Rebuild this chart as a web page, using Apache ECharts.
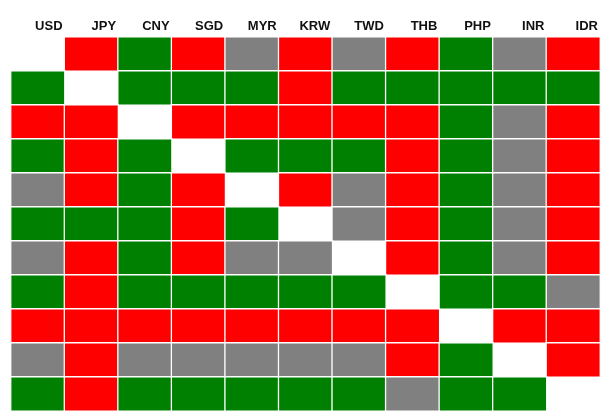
<!DOCTYPE html>
<html>
<head>
<meta charset="utf-8">
<script src="https://cdn.jsdelivr.net/npm/echarts@6/dist/echarts.min.js"></script>
<style>
  html, body { margin: 0; padding: 0; background: #fff; }
  #chart { width: 601px; height: 411px; }
</style>
</head>
<body>
<div id="chart"></div>
<script>
// currencies, same order on both axes
const currencies = ['USD', 'JPY', 'CNY', 'SGD', 'MYR', 'KRW', 'TWD', 'THB', 'PHP', 'INR', 'IDR'];

// 1 = green, -1 = red, 0 = grey, null = diagonal (blank)
const rowUSD = [null, -1, 1, -1, 0, -1, 0, -1, 1, 0, -1];
const rowJPY = [1, null, 1, 1, 1, -1, 1, 1, 1, 1, 1];
const rowCNY = [-1, -1, null, -1, -1, -1, -1, -1, 1, 0, -1];
const rowSGD = [1, -1, 1, null, 1, 1, 1, -1, 1, 0, -1];
const rowMYR = [0, -1, 1, -1, null, -1, 0, -1, 1, 0, -1];
const rowKRW = [1, 1, 1, -1, 1, null, 0, -1, 1, 0, -1];
const rowTWD = [0, -1, 1, -1, 0, 0, null, -1, 1, 0, -1];
const rowTHB = [1, -1, 1, 1, 1, 1, 1, null, 1, 1, 0];
const rowPHP = [-1, -1, -1, -1, -1, -1, -1, -1, null, -1, -1];
const rowINR = [0, -1, 0, 0, 0, 0, 0, -1, 1, null, -1];
const rowIDR = [1, -1, 1, 1, 1, 1, 1, 0, 1, 1, null];

const rows = [rowUSD, rowJPY, rowCNY, rowSGD, rowMYR, rowKRW, rowTWD, rowTHB, rowPHP, rowINR, rowIDR];

const cells = [];
rows.forEach(function (row, r) {
  row.forEach(function (v, c) {
    if (v !== null) cells.push([c, r, v]);
  });
});

const chart = echarts.init(document.getElementById('chart'));
chart.setOption({
  animation: false,
  backgroundColor: '#fff',
  grid: { left: 11, top: 37, width: 589, height: 375 },
  xAxis: [{
    type: 'category',
    data: currencies,
    show: false
  }, {
    // label-only axis so names sit at the right edge of each column
    type: 'value',
    position: 'top',
    min: 0,
    max: 11,
    interval: 1,
    axisLine: { show: false },
    axisTick: { show: false },
    splitLine: { show: false },
    axisLabel: {
      show: true,
      align: 'right',
      margin: 4,
      padding: [0, 2, 0, 0],
      fontFamily: '"Liberation Sans", Arial, sans-serif',
      fontWeight: 'bold',
      fontSize: 13,
      color: '#111',
      formatter: function (v) { return v >= 1 ? currencies[v - 1] : ''; }
    }
  }],
  yAxis: {
    type: 'category',
    data: currencies,
    inverse: true,
    show: false
  },
  visualMap: {
    type: 'piecewise',
    show: false,
    dimension: 2,
    pieces: [
      { value: -1, color: '#ff0000' },
      { value: 0, color: '#808080' },
      { value: 1, color: '#008000' }
    ]
  },
  series: [{
    type: 'heatmap',
    xAxisIndex: 0,
    data: cells,
    itemStyle: { borderColor: '#fff', borderWidth: 1.3 },
    emphasis: { disabled: true }
  }]
});
</script>
</body>
</html>
